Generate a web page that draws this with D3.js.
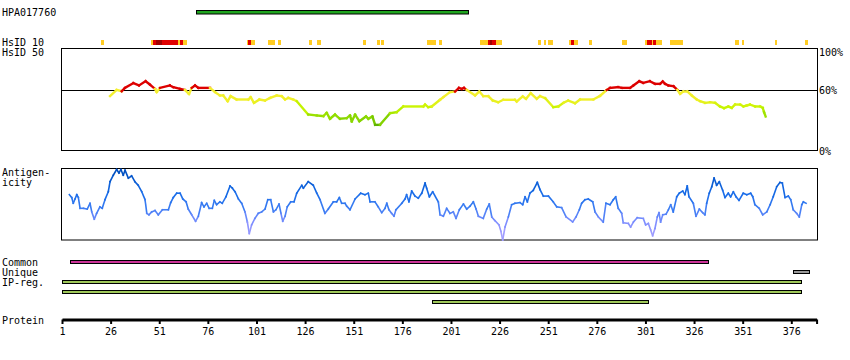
<!DOCTYPE html>
<html><head><meta charset="utf-8">
<script src="https://cdn.jsdelivr.net/npm/d3@7"></script>
<style>
html,body{margin:0;padding:0;background:#fff;}
svg text{font-family:"DejaVu Sans Mono",monospace;font-size:10px;fill:#000;}
</style></head>
<body>
<svg id="c" width="850" height="360"></svg>
<script>
const proteinLength = 389;
const axisTicks = [1,26,51,76,101,126,151,176,201,226,251,276,301,326,351,376];

const antibodyName = "HPA017760";
const antibodyRange = [70, 210];

// HsID 10 marks: start, end residue, level (0 yellow, 1 red, 2 dark red)
const hsStart = [21.1,46.8,47.6,49.2,52.6,60.5,61.7,63.1,96.0,96.8,98.0,106.8,111.9,128.0,132.1,155.7,163.0,165.0,188.5,194.7,215.8,219.9,221.0,222.0,224.2,245.6,248.6,250.7,261.5,262.7,264.2,271.8,288.8,300.6,301.7,304.3,304.9,306.2,313.4,347.2,350.4,367.4,383.2];
const hsEnd   = [22.6,47.6,49.2,52.6,60.5,61.7,63.1,65.1,96.8,98.0,100.2,110.5,113.6,129.5,134.2,157.3,164.5,166.6,193.2,196.4,219.9,221.0,222.0,224.2,227.2,247.1,250.1,253.3,262.7,264.2,266.2,273.3,291.4,301.7,304.3,304.9,306.2,309.3,320.2,348.9,351.9,368.9,384.7];
const hsLevel = [0,0,1,2,1,0,1,0,0,1,0,0,0,0,0,0,0,0,0,0,0,1,2,1,0,0,0,0,0,1,0,0,0,0,1,0,1,0,0,0,0,0,0];

// HsID 50 identity (%)
const idPos = [25.7,29.1,31.7,33.4,37.7,40.6,44.0,46.2,48.8,49.7,51.4,56.5,58.2,61.7,64.2,66.3,67.7,69.4,71.1,77.1,79.7,82.2,83.9,86.2,87.7,90.8,96.8,98.0,99.7,102.5,105.4,108.0,111.4,114.0,115.7,117.4,119.9,121.7,127.6,132.0,135.4,137.1,138.8,141.4,143.9,147.4,149.1,150.0,151.7,153.9,157.3,158.5,160.6,162.0,164.5,169.7,173.1,176.5,186.8,187.7,189.3,191.1,195.4,197.1,200.5,203.1,205.1,206.5,207.7,209.1,213.4,215.6,217.6,220.2,222.5,225.3,227.9,233.9,234.8,237.9,239.6,242.0,245.1,246.8,249.4,253.6,256.2,258.8,261.3,264.8,267.4,274.2,277.6,281.1,282.8,287.0,288.8,293.1,294.8,297.8,299.9,303.3,305.9,308.5,309.9,311.1,312.8,315.4,317.4,318.8,320.5,322.5,324.8,327.4,329.1,331.6,334.2,336.8,339.3,341.4,343.6,345.4,347.1,349.7,351.4,353.1,354.8,357.4,360.0,361.3,362.0,362.8];
const idVal = [53.8,60,58.7,62,66.7,64.4,68.6,65.3,61,57.8,62,64.4,62.7,61,60,56,62,64.4,62,62,57.8,54.5,54.5,48.8,53.8,50.5,50.5,52.8,47.2,50.5,49.5,52.1,54.5,53.8,50.5,52.1,50.5,48.8,35.6,34.7,34,37.3,31.4,35.6,31.4,32,34.7,28.7,35.6,29,33.7,31.4,33.7,25.4,25.4,37,38,43.6,43.6,45.5,42.9,43.6,50.2,52.8,57.8,58.4,62,61,62,60,54.5,58.4,53.8,53.8,49.5,47.8,50.2,50.2,48.5,53.5,51.2,56.7,51.2,53.8,51.8,42.9,43.6,47.2,49.5,46.8,50.5,50.5,54,60,62,62.7,62,62,64.4,68.6,67,68.6,66,66,68.3,66,64.4,63.7,60,56.1,58.4,58.4,54.5,50.5,48.8,47.2,47.8,47.2,43.6,41.9,43.6,42.2,45.5,45.5,43.6,44.6,45.5,43.6,43.6,42.2,38,33.7];

// Antigenicity (relative score 0-100)
const agPos = [4.8,6.0,6.8,7.7,8.6,9.4,10.3,12.0,14.0,15.4,16.3,17.6,18.8,20.5,21.7,23.1,24.8,25.7,27.4,29.1,30.3,31.3,32.5,33.4,35.1,36.8,38.5,40.2,42.0,43.7,44.6,45.7,47.1,48.8,50.5,52.6,55.7,56.9,58.2,60.0,61.7,63.1,64.8,65.9,67.7,69.7,71.1,72.8,74.0,75.4,76.7,78.3,79.3,80.5,82.2,83.4,85.3,87.4,88.6,90.0,91.7,93.4,95.1,96.3,97.3,98.5,100.2,101.9,103.7,105.4,106.8,108.3,109.7,111.0,112.6,113.6,114.5,115.7,116.8,118.6,120.3,121.7,124.3,125.1,127.6,130.2,132.0,133.7,136.2,137.9,140.5,142.2,143.6,144.8,146.5,147.4,149.1,151.7,154.6,156.8,158.5,159.4,161.9,163.6,165.4,167.1,168.0,169.1,170.5,171.7,172.7,175.7,177.4,178.2,179.4,180.8,182.5,184.2,186.0,187.7,188.5,189.9,191.6,194.5,195.4,197.1,198.8,200.5,202.2,203.6,205.3,207.4,209.1,210.8,212.5,213.9,215.1,217.6,219.4,220.7,222.0,223.6,225.7,226.7,227.6,228.8,230.5,232.2,233.9,236.5,237.9,239.1,240.3,241.6,243.3,245.4,246.8,248.5,251.1,253.6,255.4,257.9,260.2,263.6,265.3,267.0,268.2,269.9,271.6,273.9,275.1,276.8,279.3,280.7,282.8,284.5,285.7,287.0,288.8,289.6,292.2,293.4,294.8,296.8,299.9,301.1,302.5,303.7,304.7,305.9,307.1,308.0,308.8,309.9,311.6,312.8,314.0,315.3,317.1,318.4,320.2,321.3,322.5,323.4,325.6,327.0,328.7,330.4,331.6,332.5,333.8,335.1,336.3,337.6,339.0,340.7,341.9,343.6,344.8,346.2,347.6,349.1,351.3,353.1,355.1,356.2,357.3,359.5,361.3,363.4,365.1,366.7,368.5,370.2,371.4,372.8,374.5,375.7,377.0,378.8,380.1,381.4,382.2,383.6];
const agVal = [63,59,51,57,63,59,44,44,43,51,39,29,37,46,44,56,67,81,90,98,93,98,90,97,86,89,81,76,67,56,37,35,39,41,35,42,42,52,59,65,65,57,53,43,35,26,33,52,46,51,44,44,55,49,53,51,60,75,72,67,57,51,39,25,9,21,30,37,39,43,56,56,39,42,50,37,26,33,46,53,53,65,76,72,81,76,65,56,37,43,53,53,59,51,51,47,42,57,65,63,65,53,53,46,38,44,51,42,37,33,42,51,57,63,53,68,61,58,65,79,72,60,67,53,35,33,44,37,39,30,42,50,43,47,53,43,33,30,43,50,32,27,21,12,0,18,32,49,51,52,49,60,53,65,69,80,70,61,61,53,46,45,32,25,32,42,51,56,57,53,39,32,25,51,49,56,60,44,37,24,23,18,25,31,30,21,23,14,6,16,32,38,25,35,36,42,49,39,60,65,68,63,75,60,51,33,43,38,35,51,65,74,86,76,81,69,59,65,60,67,60,55,65,63,65,60,49,44,35,39,49,60,74,80,79,59,61,56,42,37,32,49,53,51];

// Annotation bars
const barLabels = ["Common","Unique","IP-reg.","IP-reg.","IP-reg."];
const barStart = [5, 377, 1, 1, 191];
const barEnd   = [333, 385, 381, 381, 302];
const barRow   = [0, 1, 2, 3, 4];
const barColor = ["#cc3399", "#999999", "#9fc85a", "#9fc85a", "#9fc85a"];

const svg = d3.select("#c");
const x = d3.scaleLinear().domain([1, proteinLength]).range([62, 62 + (proteinLength - 1) * 1.9448]);

// Labels on left
const leftLabels = [["HPA017760",16],["HsID 10",45.5],["HsID 50",55.5],["Antigen-",176],["icity",186],["Common",266],["Unique",275.5],["IP-reg.",285.5],["Protein",324]];
svg.selectAll("text.ll").data(leftLabels).join("text").attr("class","ll")
  .attr("x",2).attr("y",d=>d[1]).text(d=>d[0]);

// Antibody bar
svg.append("rect").attr("x", Math.round(x(antibodyRange[0]))+0.5).attr("y", 10.5)
  .attr("width", Math.round(x(antibodyRange[1]) - x(antibodyRange[0]))).attr("height", 3.5)
  .attr("fill", "#1fa51f").attr("stroke", "#000").attr("stroke-width", 1);

// HsID 10 marks
const hsColors = ["#ffcc22", "#e00000", "#a00000"];
svg.selectAll("rect.hs").data(hsStart.map((s,i)=>({s, e:hsEnd[i], l:hsLevel[i]})))
  .join("rect").attr("class","hs")
  .attr("x", d=>Math.round(x(d.s))).attr("width", d=>Math.max(1, Math.round(x(d.e))-Math.round(x(d.s))))
  .attr("y", 40).attr("height", 5).attr("fill", d=>hsColors[d.l]);

// Identity panel
const yId = d3.scaleLinear().domain([0,100]).range([150.5, 49.5]);
svg.append("rect").attr("x",61.5).attr("y",48.5).attr("width",756).attr("height",102)
  .attr("fill","none").attr("stroke","#000").attr("stroke-width",1);
svg.append("line").attr("x1",61.5).attr("x2",817.5).attr("y1",90.5).attr("y2",90.5)
  .attr("stroke","#000").attr("stroke-width",1);
const pctLabels = [["100%",55.5],["60%",93.5],["0%",154.5]];
svg.selectAll("text.pl").data(pctLabels).join("text").attr("class","pl")
  .attr("x",819).attr("y",d=>d[1]).text(d=>d[0]);

const idColorScale = d3.scaleLinear().domain([25,33,43,50,59.9])
  .range(["#5cb000","#8fdc00","#c8f500","#f0f028","#f5f030"]).clamp(true);
function idColor(v){ return v >= 60 ? "#dd0000" : idColorScale(v); }
const idSeg = d3.pairs(idPos.map((p,i)=>[p, idVal[i]]));
svg.append("g").selectAll("line").data(idSeg).join("line")
  .attr("x1",d=>x(d[0][0])).attr("y1",d=>yId(d[0][1]))
  .attr("x2",d=>x(d[1][0])).attr("y2",d=>yId(d[1][1]))
  .attr("stroke",d=>idColor((d[0][1]+d[1][1])/2)).attr("stroke-width",2.4)
  .attr("stroke-linecap","square");

// Antigenicity panel
const yAg = d3.scaleLinear().domain([0,100]).range([240, 168]);
svg.append("rect").attr("x",61.5).attr("y",168.5).attr("width",756).attr("height",71.5)
  .attr("fill","none").attr("stroke","#000").attr("stroke-width",1);
const agColor = d3.scaleLinear().domain([0,25,45,65,95])
  .range(["#b0a4ff","#7f8eff","#3a7cf3","#166be8","#004fc0"]).clamp(true);
const agSeg = d3.pairs(agPos.map((p,i)=>[p, agVal[i]]));
svg.append("g").selectAll("line").data(agSeg).join("line")
  .attr("x1",d=>x(d[0][0])).attr("y1",d=>yAg(d[0][1]))
  .attr("x2",d=>x(d[1][0])).attr("y2",d=>yAg(d[1][1]))
  .attr("stroke",d=>agColor((d[0][1]+d[1][1])/2)).attr("stroke-width",1.6)
  .attr("stroke-linecap","square");

// Annotation bars
svg.selectAll("rect.bar").data(barStart.map((s,i)=>({s, e:barEnd[i], r:barRow[i], c:barColor[i]})))
  .join("rect").attr("class","bar")
  .attr("x",d=>Math.round(x(d.s))+0.5).attr("width",d=>Math.round(x(d.e)-x(d.s)))
  .attr("y",d=>260.5 + d.r*10).attr("height",3)
  .attr("fill",d=>d.c).attr("stroke","#000").attr("stroke-width",1);

// Protein axis
const axis = d3.axisBottom(x).tickValues(axisTicks.concat([proteinLength]))
  .tickFormat(d => d === proteinLength ? "" : d).tickSize(4.5).tickSizeOuter(0).tickPadding(3.5);
const ag = svg.append("g").attr("transform","translate(0,319.5)").call(axis);
ag.select(".domain").attr("stroke","#000").attr("stroke-width",3);
ag.selectAll(".tick line").attr("stroke","#000").attr("stroke-width",2);
ag.selectAll(".tick text").attr("font-family","DejaVu Sans Mono").attr("font-size",10).attr("fill","#000");
</script>
</body></html>
